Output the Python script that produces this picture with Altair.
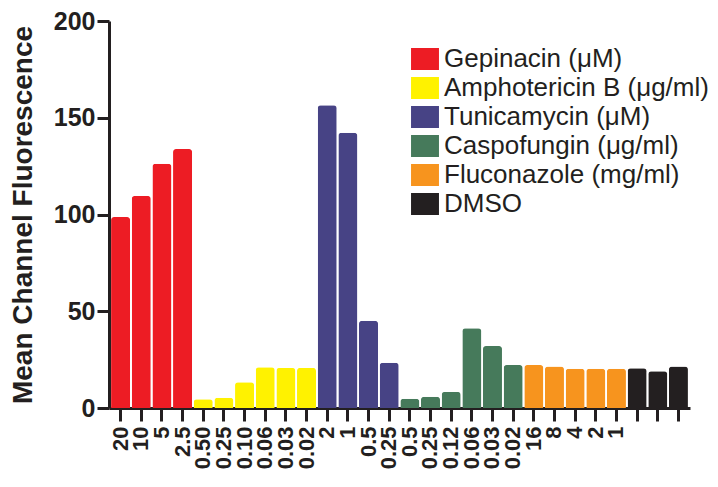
import altair as alt
import pandas as pd

groups = (["Gepinacin (μM)"] * 4 + ["Amphotericin B (μg/ml)"] * 6 + ["Tunicamycin (μM)"] * 4
          + ["Caspofungin (μg/ml)"] * 6 + ["Fluconazole (mg/ml)"] * 5 + ["DMSO"] * 3)
labels = ["20", "10", "5", "2.5",
          "0.50", "0.25", "0.10", "0.06", "0.03", "0.02",
          "2", "1", "0.5", "0.25",
          "0.5", "0.25", "0.12", "0.06", "0.03", "0.02",
          "16", "8", "4", "2", "1",
          "", "", ""]
values = [98.7, 109.6, 126.2, 133.8,
          4.5, 5.3, 13.3, 21.0, 20.7, 20.7,
          156.4, 142.3, 45.1, 23.4,
          4.8, 5.8, 8.3, 41.2, 32.0, 22.2,
          22.2, 21.5, 20.3, 20.3, 20.3,
          20.5, 19.0, 21.5]
legend_order = ["Gepinacin (μM)", "Amphotericin B (μg/ml)", "Tunicamycin (μM)",
                "Caspofungin (μg/ml)", "Fluconazole (mg/ml)", "DMSO"]
colors = ["#ED1C24", "#FFF200", "#474385", "#467A5B", "#F7941E", "#231F20"]

df = pd.DataFrame({"idx": list(range(len(values))), "group": groups, "label": labels, "value": values})

label_expr = "[" + ",".join("'" + l + "'" for l in labels) + "][datum.value]"
ink = "#231F20"

chart = alt.Chart(df).mark_bar(cornerRadiusTopLeft=3, cornerRadiusTopRight=3).encode(
    x=alt.X("idx:O", title=None,
            scale=alt.Scale(paddingInner=0.08, paddingOuter=0.1),
            axis=alt.Axis(labelExpr=label_expr, labelAngle=-90, labelAlign="right",
                          labelBaseline="middle", labelFont="Liberation Sans",
                          labelFontWeight="bold", labelFontSize=22, labelColor=ink,
                          labelPadding=5, tickSize=13, tickWidth=3, tickColor=ink,
                          domainWidth=3, domainColor=ink, labelOverlap=False)),
    y=alt.Y("value:Q", title="Mean Channel Fluorescence",
            scale=alt.Scale(domain=[0, 200], nice=False),
            axis=alt.Axis(values=[0, 50, 100, 150, 200], grid=False,
                          labelFont="Liberation Sans", labelFontWeight="bold",
                          labelFontSize=25, labelColor=ink, labelPadding=2,
                          tickSize=12, tickWidth=3, tickColor=ink,
                          domainWidth=3, domainColor=ink,
                          titleFont="Liberation Sans", titleFontWeight="bold",
                          titleFontSize=28, titleColor=ink, titlePadding=16)),
    color=alt.Color("group:N", sort=legend_order,
                    scale=alt.Scale(domain=legend_order, range=colors),
                    legend=alt.Legend(title=None, orient="none", legendX=303, legendY=25,
                                      symbolType="M-1.27,-1L1.27,-1L1.27,1L-1.27,1Z",
                                      symbolSize=484, symbolStrokeWidth=0, symbolOpacity=1,
                                      labelFont="Liberation Sans", labelFontSize=26,
                                      labelColor=ink, labelOffset=6, rowPadding=3,
                                      padding=0, labelLimit=400)),
).properties(
    width=581, height=387,
    autosize=alt.AutoSizeParams(type="none"),
    padding={"left": 101, "top": 13, "right": 20, "bottom": 69},
).configure_view(stroke=None)

chart.save("out.html", embed_options={"renderer": "svg", "actions": False})
